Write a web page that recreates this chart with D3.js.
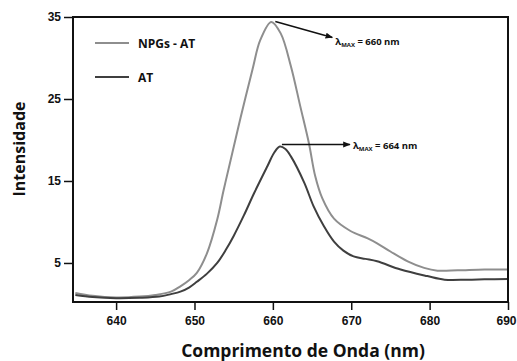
<!DOCTYPE html>
<html>
<head>
<meta charset="utf-8">
<script src="https://cdn.jsdelivr.net/npm/d3@7"></script>
<style>
  html, body { margin: 0; padding: 0; background: #fff; }
  svg { display: block; font-family: "Open Sans", sans-serif; }
  .tick text { font-weight: bold; font-size: 12px; fill: #111; }
</style>
</head>
<body>
<div id="chart"></div>
<script>
// wavelength (nm) / intensity
const npgsWl = [634.8, 637, 640, 643, 645, 647, 648.2, 649.3, 650.3, 651.6, 652.9, 653.7, 654.6, 655.9, 657.4, 658.4, 659.8, 661.0, 662.3, 663.5, 664.6, 665.4, 666.3, 667.8, 669.9, 672.1, 673.3, 675.0, 677.2, 679.3, 681.0, 683.6, 687.0, 690];
const npgsVal = [1.35, 1.0, 0.8, 0.9, 1.1, 1.5, 2.15, 2.9, 3.8, 6.2, 10.3, 13.8, 17.5, 22.8, 28.6, 32.2, 34.4, 33.0, 29.0, 24.1, 19.6, 15.6, 12.9, 10.4, 8.9, 8.0, 7.4, 6.4, 5.2, 4.4, 4.06, 4.1, 4.2, 4.2];

const atWl = [634.8, 637, 640, 643, 645.5, 647, 648.2, 649.3, 650.3, 651.6, 652.9, 654, 655, 656.3, 657.6, 659.3, 660.2, 660.9, 661.6, 662.3, 664.0, 665.2, 666.5, 667.8, 669, 670.3, 671.8, 673.3, 676.3, 679.7, 681.9, 684.8, 687, 690];
const atVal = [1.1, 0.85, 0.7, 0.75, 0.9, 1.2, 1.5, 2.0, 2.7, 3.7, 5.0, 6.6, 8.3, 10.8, 13.5, 16.8, 18.5, 19.2, 18.9, 18.0, 14.8, 11.9, 9.5, 7.6, 6.5, 5.8, 5.5, 5.2, 4.2, 3.4, 2.96, 2.96, 3.0, 3.05];

const seriesNames = ["NPGs - AT", "AT"];
const seriesColors = ["#8e8e8e", "#3f3f3f"];

const xTicks = [640, 650, 660, 670, 680, 690];
const yTicks = [5, 15, 25, 35];

const peakWl = [659.8, 660.9];
const peakVal = [34.4, 19.2];
const peakLabels = ["660 nm", "664 nm"];

const totalWidth = 517, totalHeight = 361;
const margin = { top: 17, right: 9, bottom: 59, left: 73 },
  width = totalWidth - margin.left - margin.right,
  height = totalHeight - margin.top - margin.bottom;

const svg = d3
  .select("#chart")
  .append("svg")
  .attr("width", totalWidth)
  .attr("height", totalHeight);

svg.append("defs")
  .append("marker")
  .attr("id", "arrow")
  .attr("viewBox", "0 0 10 10")
  .attr("refX", 9)
  .attr("refY", 5)
  .attr("markerWidth", 5)
  .attr("markerHeight", 5)
  .attr("orient", "auto")
  .append("path")
  .attr("d", "M0,1L10,5L0,9z")
  .attr("fill", "#111");

const g = svg.append("g")
  .attr("transform", "translate(" + margin.left + "," + margin.top + ")");

const x = d3.scaleLinear().domain([634.5, 690]).range([0, width]);
const y = d3.scaleLinear().domain([0.24, 35]).range([height, 0]);

const line = d3
  .line()
  .curve(d3.curveCatmullRom.alpha(0.5))
  .x((d) => x(d[0]))
  .y((d) => y(d[1]));

const series = [
  d3.zip(npgsWl, npgsVal),
  d3.zip(atWl, atVal),
];

series.forEach((data, i) => {
  g.append("path")
    .datum(data)
    .attr("fill", "none")
    .attr("stroke", seriesColors[i])
    .attr("stroke-width", 2)
    .attr("stroke-linejoin", "round")
    .attr("d", line);
});

// axes
const xAxis = g.append("g")
  .attr("transform", "translate(0," + height + ")")
  .call(d3.axisBottom(x).tickValues(xTicks).tickSize(8).tickPadding(6));
const yAxis = g.append("g")
  .call(d3.axisLeft(y).tickValues(yTicks).tickSize(9).tickPadding(3));
[xAxis, yAxis].forEach((a) => {
  a.select(".domain").remove();
  a.selectAll(".tick line").attr("stroke", "#111").attr("stroke-width", 1.5);
});
// last label sits at the window edge
xAxis.selectAll(".tick text").filter((d) => d === 690).attr("dx", -2);

// frame
g.append("rect")
  .attr("width", width)
  .attr("height", height)
  .attr("fill", "none")
  .attr("stroke", "#111")
  .attr("stroke-width", 2);

// legend
seriesNames.forEach((name, i) => {
  const ly = 26 + i * 34;
  g.append("line")
    .attr("x1", 22).attr("x2", 56)
    .attr("y1", ly).attr("y2", ly)
    .attr("stroke", seriesColors[i])
    .attr("stroke-width", 2);
  g.append("text")
    .attr("x", 65).attr("y", ly + 4.5)
    .attr("font-size", 12)
    .attr("font-weight", "bold")
    .attr("fill", "#111")
    .text(name);
});

// peak annotations
const arrowEnds = [[57, 16], [68, 0]];
peakLabels.forEach((lab, i) => {
  const px = x(peakWl[i]) + (i === 0 ? 4 : 2);
  const py = y(peakVal[i]) + (i === 0 ? -0.5 : -2);
  const ex = px + arrowEnds[i][0];
  const ey = py + arrowEnds[i][1];
  g.append("line")
    .attr("x1", px).attr("y1", py)
    .attr("x2", ex).attr("y2", ey)
    .attr("stroke", "#111")
    .attr("stroke-width", 1.5)
    .attr("marker-end", "url(#arrow)");
  const t = g.append("text")
    .attr("x", ex + 3)
    .attr("y", ey + (i === 0 ? 8 : 4))
    .attr("font-size", 9.5)
    .attr("font-weight", "bold")
    .attr("fill", "#111");
  t.append("tspan").text("\u03bb");
  t.append("tspan").attr("font-size", 6).attr("dy", 2).text("MAX");
  t.append("tspan").attr("dy", -2).text(" = " + lab);
});

// axis titles
svg.append("text")
  .attr("x", 303)
  .attr("y", 357)
  .attr("text-anchor", "middle")
  .attr("font-size", 17.5)
  .attr("font-weight", "bold")
  .attr("fill", "#111")
  .text("Comprimento de Onda (nm)");

svg.append("text")
  .attr("transform", "translate(25,149) rotate(-90)")
  .attr("text-anchor", "middle")
  .attr("font-size", 16)
  .attr("font-weight", "bold")
  .attr("fill", "#111")
  .text("Intensidade");
</script>
</body>
</html>
